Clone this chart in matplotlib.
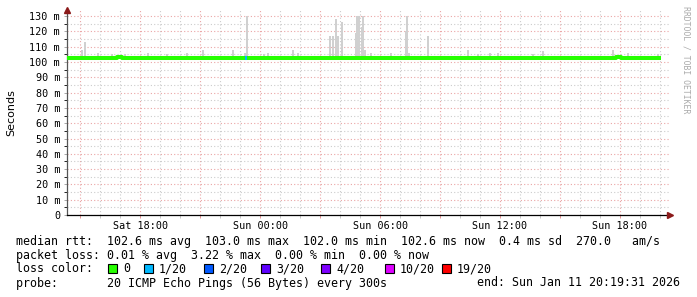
import matplotlib
matplotlib.use("Agg")
import matplotlib.pyplot as plt
import matplotlib.dates as mdates
from matplotlib.patches import Rectangle
from datetime import datetime, timedelta

start = datetime(2026, 1, 10, 14, 19, 31)
end = datetime(2026, 1, 11, 20, 19, 31)

# median rtt (ms), one value per 15 minutes from start
median_ms = [
    102.9, 102.7, 102.9, 102.6, 102.9, 102.9, 102.7, 102.5, 102.9, 102.9,
    103.0, 102.7, 102.9, 102.6, 102.8, 102.9, 102.5, 102.9, 102.7, 102.9,
    102.6, 102.9, 102.7, 102.5, 102.8, 102.9, 102.9, 102.6, 102.8, 102.9,
    102.5, 102.8, 102.6, 102.4, 102.7, 102.5, 102.8, 102.6, 102.9, 102.7,
    102.8, 102.9, 102.6, 102.5, 102.8, 102.6, 102.4, 102.6, 102.4, 102.6,
    102.4, 102.3, 102.6, 102.4, 102.6, 102.3, 102.5, 102.6, 102.4, 102.7,
    102.6, 102.4, 102.7, 102.5, 102.4, 102.7, 102.5, 102.8, 102.5, 102.4,
    102.7, 102.5, 102.4, 102.6, 102.7, 102.4, 102.6, 102.8, 102.6, 102.5,
    102.7, 102.5, 102.8, 102.6, 102.9, 102.7, 102.6, 102.8, 102.5, 102.8,
    102.6, 102.9, 102.7, 102.6, 102.9, 102.7, 102.6, 102.9, 102.7, 102.6,
    102.8, 102.9, 102.7, 102.6, 102.9, 102.7, 102.9, 102.6, 102.8, 102.9,
    103.0, 102.7, 102.9, 102.7, 102.6, 102.9, 102.7, 102.9, 102.7, 102.9,
]

# smoke: max ping per 5 minute step (only the visible ones)
smoke_times = [
    "01-10 15:06", "01-10 15:15", "01-10 15:54", "01-10 16:36", "01-10 17:15",
    "01-10 18:24", "01-10 19:21", "01-10 20:21", "01-10 21:09", "01-10 22:39",
    "01-10 23:15", "01-10 23:21", "01-11 00:12", "01-11 00:24", "01-11 01:39",
    "01-11 01:54", "01-11 03:30", "01-11 03:39", "01-11 03:48", "01-11 03:54",
    "01-11 04:06", "01-11 04:48", "01-11 04:51", "01-11 04:57", "01-11 05:06",
    "01-11 05:09", "01-11 05:15", "01-11 05:33", "01-11 06:33", "01-11 07:18",
    "01-11 07:21", "01-11 07:27", "01-11 08:24", "01-11 10:24", "01-11 10:54",
    "01-11 11:30", "01-11 11:54", "01-11 13:39", "01-11 14:09", "01-11 17:39",
    "01-11 18:24", "01-11 19:54",
]
smoke_top_ms = [
    108, 113, 106, 105, 105,
    106, 105, 106, 108, 108,
    106, 130, 105, 106, 108,
    106, 117, 117, 128, 117,
    126, 119, 130, 130, 123,
    130, 108, 106, 106, 120,
    130, 106, 117, 108, 105,
    106, 106, 105, 107, 108,
    106, 105,
]

loss_times = ["01-10 23:15"]
loss_index = [1]

loss_labels = ["0", "1/20", "2/20", "3/20", "4/20", "10/20", "19/20"]
loss_colors = ["#26ff00", "#00b8ff", "#0059ff", "#5e00ff", "#7e00ff", "#dd00ff", "#ff0000"]


def to_dt(s):
    return datetime.strptime("2026-" + s, "%Y-%m-%d %H:%M")


W, H = 697, 297
fig = plt.figure(figsize=(W / 100, H / 100), dpi=100)
ax = fig.add_axes([67 / W, 82 / H, 603 / W, 205 / H])

step = timedelta(minutes=15)
mtimes = [start + i * step for i in range(len(median_ms))]

# smoke
st = [to_dt(s) for s in smoke_times]
ax.bar(st, [v - 102.2 for v in smoke_top_ms], bottom=102.2,
       width=6 / 1440, color="#d0d0d0", zorder=2, linewidth=0)

# median line
ax.step(mtimes, median_ms, where="post", color=loss_colors[0], lw=2.9, zorder=4,
        solid_capstyle="butt")
for t, li in zip(loss_times, loss_index):
    t0 = to_dt(t)
    i = int((t0 - start) / step)
    ax.plot([t0, t0 + timedelta(minutes=6)], [median_ms[i]] * 2,
            color=loss_colors[li], lw=2.9, zorder=5, solid_capstyle="butt")

ax.set_xlim(start, end + timedelta(minutes=11))
ax.set_ylim(0, 134)

ax.set_yticks(range(0, 131, 10))
ax.set_yticks(range(5, 131, 10), minor=True)
ax.set_yticklabels(["0"] + ["%d m" % v for v in range(10, 131, 10)])

ax.xaxis.set_major_locator(mdates.HourLocator(byhour=range(0, 24, 3)))
ax.xaxis.set_minor_locator(mdates.HourLocator())
ax.xaxis.set_major_formatter(
    plt.FuncFormatter(lambda v, p: mdates.num2date(v).strftime("%a %H:%M")
                      if mdates.num2date(v).hour % 6 == 0 else ""))

dots = (0, (1, 2))
ax.grid(which="major", color="#eaa5a5", ls=dots, lw=0.8)
ax.grid(which="minor", color="#cccccc", ls=dots, lw=0.8)
ax.set_axisbelow(True)

for s in ["top", "right"]:
    ax.spines[s].set_visible(False)
ax.spines["left"].set_color("#555555")
ax.spines["bottom"].set_color("#000000")
ax.spines["left"].set_linewidth(0.9)
ax.spines["bottom"].set_linewidth(0.9)

ax.tick_params(which="both", length=2, width=0.6, labelsize=7.3, pad=3)
ax.tick_params(axis="x", which="major", colors="#e08080", labelcolor="black", pad=2)
ax.tick_params(axis="x", which="minor", colors="#bbbbbb")
ax.tick_params(axis="y", colors="#999999", labelcolor="black")
for lab in ax.get_xticklabels() + ax.get_yticklabels():
    lab.set_family("DejaVu Sans Mono")

ax.plot(1, 0, marker=">", ms=4, color="#8b1a1a", transform=ax.transAxes, clip_on=False, zorder=6)
ax.plot(0, 1, marker="^", ms=4, color="#8b1a1a", transform=ax.transAxes, clip_on=False, zorder=6)

fig.text(11 / W, 1 - 113 / H, "Seconds", rotation=90, ha="center", va="center", fontsize=8)
fig.text(686 / W, 1 - 60 / H, "RRDTOOL / TOBI OETIKER", rotation=270, ha="center", va="center",
         fontsize=5.9, color="#aaaaaa", family="DejaVu Sans Mono")

mono = dict(family="DejaVu Sans Mono", fontsize=8.4, va="center")
fig.text(16 / W, 1 - 241 / H,
         "median rtt:  102.6 ms avg  103.0 ms max  102.0 ms min  102.6 ms now  0.4 ms sd  270.0   am/s",
         **mono)
fig.text(16 / W, 1 - 255 / H,
         "packet loss: 0.01 % avg  3.22 % max  0.00 % min  0.00 % now", **mono)
fig.text(16 / W, 1 - 269 / H, "loss color:", **mono)
fig.text(16 / W, 1 - 283 / H, "probe:       20 ICMP Echo Pings (56 Bytes) every 300s", **mono)
fig.text(680 / W, 1 - 283 / H, "end: Sun Jan 11 20:19:31 2026", ha="right",
         family="DejaVu Sans Mono", fontsize=8.4, va="center")

box_x = [108, 144, 204, 261, 321, 385, 442]
for x, lab, c in zip(box_x, loss_labels, loss_colors):
    fig.patches.append(Rectangle((x / W, 1 - 273 / H), 9 / W, 9 / H, transform=fig.transFigure,
                                 facecolor=c, edgecolor="black", lw=0.8))
    fig.text((x + 15) / W, 1 - 269 / H, lab, **mono)

fig.savefig("out.png", dpi=100)
